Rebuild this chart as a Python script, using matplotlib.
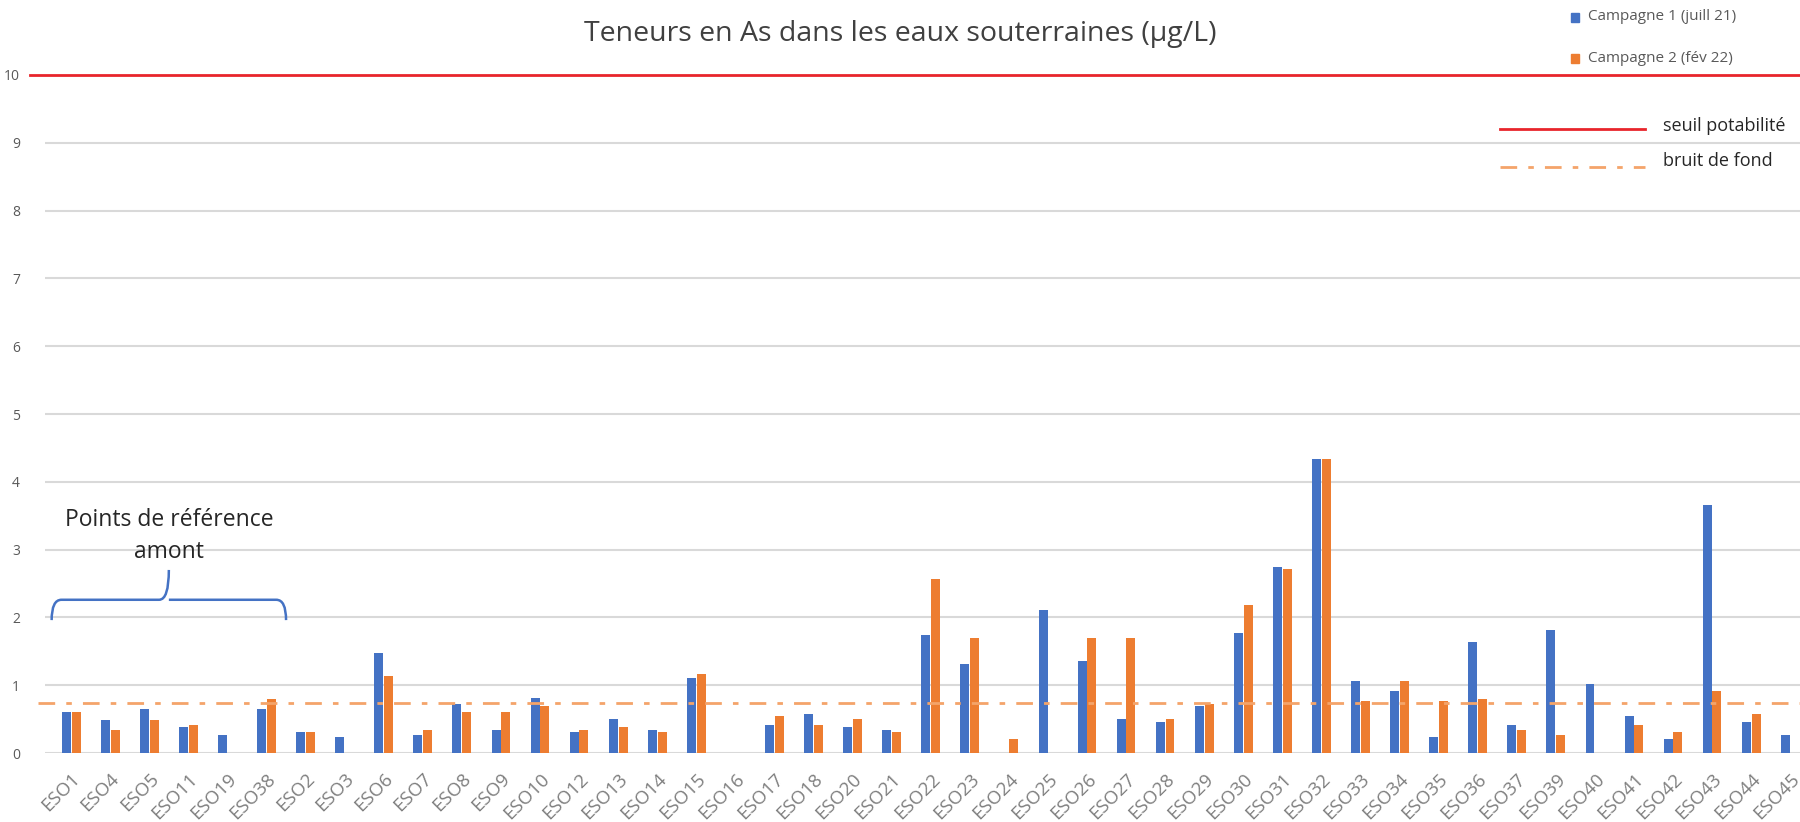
import matplotlib
matplotlib.use('Agg')
import matplotlib.pyplot as plt
import numpy as np
from matplotlib.path import Path
from matplotlib.patches import PathPatch, Rectangle
from matplotlib.lines import Line2D

plt.rcParams['font.family'] = ['Open Sans', 'DejaVu Sans']

stations = ['ESO1', 'ESO4', 'ESO5', 'ESO11', 'ESO19', 'ESO38', 'ESO2', 'ESO3', 'ESO6', 'ESO7',
            'ESO8', 'ESO9', 'ESO10', 'ESO12', 'ESO13', 'ESO14', 'ESO15', 'ESO16', 'ESO17', 'ESO18',
            'ESO20', 'ESO21', 'ESO22', 'ESO23', 'ESO24', 'ESO25', 'ESO26', 'ESO27', 'ESO28', 'ESO29',
            'ESO30', 'ESO31', 'ESO32', 'ESO33', 'ESO34', 'ESO35', 'ESO36', 'ESO37', 'ESO39', 'ESO40',
            'ESO41', 'ESO42', 'ESO43', 'ESO44', 'ESO45']
# nan = no measurement
nan = np.nan
campagne1 = [0.61, 0.49, 0.65, 0.38, 0.27, 0.65, 0.31, 0.23, 1.47, 0.27,
             0.72, 0.34, 0.81, 0.31, 0.50, 0.34, 1.10, nan, 0.42, 0.58,
             0.38, 0.34, 1.74, 1.32, nan, 2.11, 1.36, 0.50, 0.46, 0.69,
             1.77, 2.75, 4.34, 1.06, 0.91, 0.23, 1.63, 0.42, 1.81, 1.02,
             0.54, 0.20, 3.66, 0.46, 0.27]
campagne2 = [0.61, 0.34, 0.49, 0.42, nan, 0.80, 0.31, nan, 1.14, 0.34,
             0.61, 0.61, 0.69, 0.34, 0.38, 0.31, 1.17, nan, 0.54, 0.42,
             0.50, 0.31, 2.57, 1.70, 0.20, nan, 1.70, 1.70, 0.50, 0.72,
             2.19, 2.71, 4.34, 0.76, 1.06, 0.76, 0.80, 0.34, 0.27, nan,
             0.42, 0.31, 0.91, 0.57, nan]
seuil = 10
bruit_fond = 0.74

blue = '#4472C4'
orange = '#ED7D31'
grey_txt = '#595959'

fig = plt.figure(figsize=(18, 8.22), dpi=100)
ax = fig.add_axes([45/1800, 69/822, 1 - 45/1800, 678/822])

x = np.arange(len(stations))
w = 0.23
ax.bar(x - w/2 - 0.01, campagne1, w, color=blue, zorder=3)
ax.bar(x + w/2 + 0.01, campagne2, w, color=orange, zorder=3)

ax.axhline(seuil, xmin=-15/1755, xmax=1, color='#E8252B', lw=2, zorder=4, clip_on=False)
ax.axhline(bruit_fond, xmin=-7/1755, xmax=1, color='#F4A46A', lw=2,
           dashes=(6, 4, 2, 4), zorder=4, clip_on=False)

ax.set_xlim(-0.67, 44.25)
ax.set_ylim(0, 10)
ax.set_yticks(range(0, 11))
ax.yaxis.grid(True, color='#D9D9D9', lw=1.5, zorder=0)
for s in ax.spines.values():
    s.set_visible(False)
ax.tick_params(axis='both', length=0, colors=grey_txt)
ax.tick_params(axis='y', labelsize=10, pad=18)
ax.set_xticks(x)
ax.set_xticklabels(stations, rotation=45, ha='right', rotation_mode='anchor', fontsize=13.5,
                   color='#7F7F7F')
ax.tick_params(axis='x', pad=12)

# accolade "Points de référence amont" (ESO1 a ESO38)
x0, x1 = -0.5, 5.5
xm = (x0 + x1) / 2
yb, yh, yt = 1.96, 2.26, 2.70
r = 0.25
verts = [(x0, yb), (x0, yh), (x0 + r, yh), (xm - r, yh), (xm, yh), (xm, yt),
         (xm, yh), (xm + r, yh), (x1 - r, yh), (x1, yh), (x1, yb)]
codes = [Path.MOVETO, Path.CURVE3, Path.CURVE3, Path.LINETO, Path.CURVE3, Path.CURVE3,
         Path.MOVETO, Path.CURVE3, Path.LINETO, Path.CURVE3, Path.CURVE3]
ax.add_patch(PathPatch(Path(verts, codes), fill=False, edgecolor=blue, lw=1.8, zorder=5))
ax.text(xm, 3.44, 'Points de référence', ha='center', va='center', fontsize=16.5, color='#262626')
ax.text(xm, 2.96, 'amont', ha='center', va='center', fontsize=16.5, color='#262626')

fig.text(0.5, 1 - 34/822, 'Teneurs en As dans les eaux souterraines (µg/L)', ha='center',
         va='center', fontsize=20.5, color='#404040')

# legende
fig.patches.append(Rectangle((1571/1800, 1 - 22/822), 8/1800, 9/822, color=blue,
                             transform=fig.transFigure, figure=fig))
fig.patches.append(Rectangle((1571/1800, 1 - 63/822), 8/1800, 9/822, color=orange,
                             transform=fig.transFigure, figure=fig))
fig.text(1588/1800, 1 - 17/822, 'Campagne 1 (juill 21)', fontsize=11, color=grey_txt, va='center')
fig.text(1588/1800, 1 - 58/822, 'Campagne 2 (fév 22)', fontsize=11, color=grey_txt, va='center')
fig.lines.append(Line2D([1500/1800, 1645/1800], [1 - 129/822] * 2, color='#E8252B', lw=2,
                        transform=fig.transFigure, figure=fig))
fig.lines.append(Line2D([1500/1800, 1645/1800], [1 - 167/822] * 2, color='#F4A46A', lw=2,
                        dashes=(6, 4, 2, 4), transform=fig.transFigure, figure=fig))
fig.text(1663/1800, 1 - 126/822, 'seuil potabilité', fontsize=13, color='#262626', va='center')
fig.text(1663/1800, 1 - 161/822, 'bruit de fond', fontsize=13, color='#262626', va='center')

fig.savefig('out.png', dpi=100)
